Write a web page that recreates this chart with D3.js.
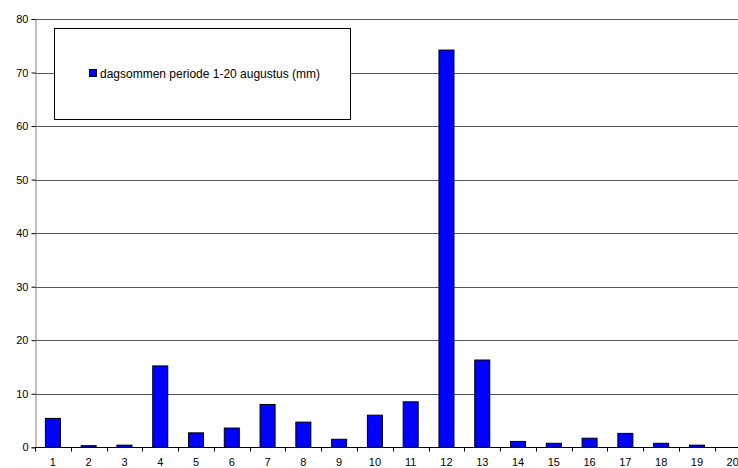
<!DOCTYPE html>
<html>
<head>
<meta charset="utf-8">
<script src="https://cdn.jsdelivr.net/npm/d3@7"></script>
<style>
  body { margin: 0; background: #fff; }
  svg { display: block; font-family: "Liberation Sans", Arial, sans-serif; }
</style>
</head>
<body>
<script>
var days = [ '1','2','3','4','5','6','7','8','9','10','11','12','13','14','15','16','17','18','19','20' ],
    rain = [ 5.4, 0.3, 0.4, 15.2, 2.7, 3.6, 8.0, 4.7, 1.5, 6.0, 8.5, 74.2, 16.3, 1.1, 0.75, 1.7, 2.6, 0.75, 0.4, 0 ],
    yTicks = [ 0, 10, 20, 30, 40, 50, 60, 70, 80 ],
    seriesName = 'dagsommen periode 1-20 augustus (mm)';

var width = 738,
    height = 468,
    margin = { top: 19, left: 35 },
    plotW = 20 * 35.78,
    plotH = 428.3;

var x = d3.scaleBand()
        .domain(days)
        .range([0, plotW])
        .paddingInner(0.58)
        .paddingOuter(0.29);

var y = d3.scaleLinear()
        .domain([0, 80])
        .range([plotH, 0]);

var svg = d3.select('body')
        .append('svg')
         .attr('width', width)
         .attr('height', height)
        .append('g')
         .attr('transform', 'translate(' + margin.left + ',' + margin.top + ')');

// horizontal gridlines
svg.selectAll('.grid')
    .data(yTicks.filter(function(d) { return d > 0; }))
    .enter().append('line')
     .attr('x1', 0)
     .attr('x2', plotW)
     .attr('y1', function(d) { return Math.round(y(d)) + 0.5; })
     .attr('y2', function(d) { return Math.round(y(d)) + 0.5; })
     .attr('stroke', '#555')
     .attr('stroke-width', 1);

// legend box
var legend = svg.append('g');
legend.append('rect')
    .attr('x', 19.5)
    .attr('y', 9.5)
    .attr('width', 296)
    .attr('height', 91)
    .attr('fill', '#fff')
    .attr('stroke', '#000');
legend.append('rect')
    .attr('x', 54.5)
    .attr('y', 50.5)
    .attr('width', 7)
    .attr('height', 7)
    .attr('fill', '#0000ff')
    .attr('stroke', '#000');
legend.append('text')
    .attr('x', 65)
    .attr('y', 58.5)
    .attr('font-size', '12px')
    .attr('fill', '#000')
    .text(seriesName);

// bars
svg.selectAll('.bar')
    .data(rain)
    .enter().append('rect')
     .attr('x', function(d, i) { return x(days[i]); })
     .attr('y', function(d) { return y(d); })
     .attr('width', x.bandwidth())
     .attr('height', function(d) { return plotH - y(d); })
     .attr('fill', '#0000ff')
     .attr('stroke', function(d) { return d > 0 ? '#000' : 'none'; })
     .attr('stroke-width', 1);

// y axis
var yAxis = d3.axisLeft(y)
        .tickValues(yTicks)
        .tickSize(4)
        .tickPadding(3);
var gy = svg.append('g')
    .attr('transform', 'translate(0.5,0)')
    .call(yAxis);
gy.select('.domain').attr('stroke', '#808080');
gy.selectAll('.tick line').attr('stroke', '#000');
gy.selectAll('text').attr('font-size', '11px').attr('font-family', '"Liberation Sans", Arial, sans-serif').attr('fill', '#000');

// x axis: ticks on category boundaries
var gx = svg.append('g')
    .attr('transform', 'translate(0,' + (Math.round(plotH) + 0.5) + ')');
gx.append('line')
    .attr('x1', 0)
    .attr('x2', plotW)
    .attr('stroke', '#000');
gx.selectAll('.xt')
    .data(days)
    .enter().append('line')
     .attr('x1', function(d, i) { return Math.round(i * x.step()) + 0.5; })
     .attr('x2', function(d, i) { return Math.round(i * x.step()) + 0.5; })
     .attr('y1', 0)
     .attr('y2', 4)
     .attr('stroke', '#000');
gx.selectAll('.xl')
    .data(days)
    .enter().append('text')
     .attr('x', function(d) { return x(d) + x.bandwidth() / 2; })
     .attr('y', 18)
     .attr('text-anchor', 'middle')
     .attr('font-size', '11px')
     .attr('fill', '#000')
     .text(function(d) { return d; });
</script>
</body>
</html>
